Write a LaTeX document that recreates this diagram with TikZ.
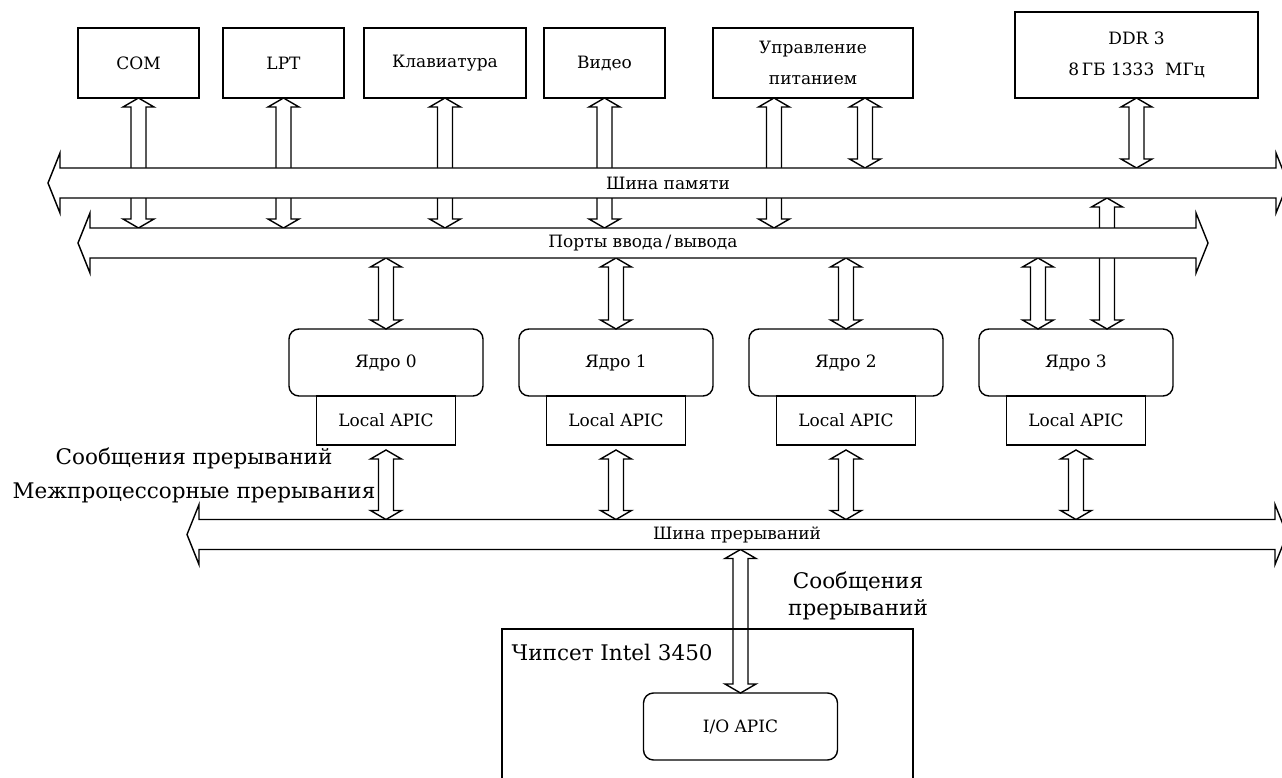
\documentclass[tikz,border=0pt]{standalone}
\usepackage{fontspec}
\setmainfont{DejaVu Serif}
\usetikzlibrary{positioning,calc}
\pgfdeclarelayer{back}
\pgfdeclarelayer{mid}
\pgfsetlayers{back,mid,main}

\begin{document}
\begin{tikzpicture}[
  x = 1pt, y = -1pt,
  box/.style = {
    draw,
    minimum height = 70pt,
    inner sep = 0pt,
    outer sep = 0pt,
    align = center,
    font = \fontsize{17}{31}\selectfont,
  },
  core/.style = {
    draw,
    rounded corners = 10pt,
    minimum width = 194pt,
    minimum height = 67pt,
    inner sep = 0pt,
    outer sep = 0pt,
    font = \fontsize{17}{20}\selectfont,
  },
  apic/.style = {
    draw,
    minimum width = 139pt,
    minimum height = 49pt,
    inner sep = 0pt,
    outer sep = 0pt,
    font = \fontsize{17}{20}\selectfont,
  },
  bus/.style = {
    minimum height = 30pt,
    inner sep = 0pt,
    outer sep = 0pt,
    font = \fontsize{17}{20}\selectfont,
  },
  bigtext/.style = {
    inner sep = 0pt,
    align = center,
    font = \fontsize{21.5}{34}\selectfont,
  },
  dblarrow/.style = {
    draw, fill = white,
    to path = {
      let \p1 = (\tikztostart), \p2 = (\tikztotarget) in
      (\x1, \y1) -- (\x1+15.5pt, \y1-9pt) -- (\x1+7.5pt, \y1-9pt)
      -- (\x2+7.5pt, \y2+9pt) -- (\x2+15.5pt, \y2+9pt) -- (\x2, \y2)
      -- (\x2-15.5pt, \y2+9pt) -- (\x2-7.5pt, \y2+9pt)
      -- (\x1-7.5pt, \y1-9pt) -- (\x1-15.5pt, \y1-9pt) -- cycle
    }
  },
  busline/.style = {
    draw, fill = white,
    to path = {
      let \p1 = (\tikztostart), \p2 = (\tikztotarget) in
      (\x1, \y1+15pt) -- (\x1, \y1+30pt) -- (\x1-12pt, \y1)
      -- (\x1, \y1-30pt) -- (\x1, \y1-15pt) -- (\x2, \y2-15pt)
      -- (\x2, \y2-30pt) -- (\x2+12pt, \y2) -- (\x2, \y2+30pt)
      -- (\x2, \y2+15pt) -- cycle
    }
  },
  every path/.style = {
    line width = 1.4pt
  }
]
  \useasboundingbox (0, 0) rectangle (1282, 778);

  % devices
  \node[box, minimum width = 121pt] (com) at (138.5, 63) {COM};
  \node[box, minimum width = 121pt] (lpt) at (283.5, 63) {LPT};
  \node[box, minimum width = 162pt] (kbd) at (445, 63) {Клавиатура};
  \node[box, minimum width = 121pt] (video) at (604.5, 63) {Видео};
  \node[box, minimum width = 200pt] (power) at (813, 63) {Управление\\питанием};
  \node[box, minimum width = 243pt, minimum height = 86pt] (ddr) at (1136.5, 55) {DDR 3\\8\,ГБ 1333\ \ МГц};

  % buses
  \node[bus, minimum width = 1216pt] (membus) at (668, 183) {Шина памяти};
  \node[bus, minimum width = 1106pt] (ports) at (643, 243) {Порты ввода\,/\,вывода};
  \node[bus, minimum width = 1076pt] (intbus) at (737, 534.5) {Шина прерываний};

  % cores
  \node[core] (core0) at (386, 362.5) {Ядро 0};
  \node[core, right = 36pt of core0] (core1) {Ядро 1};
  \node[core, right = 36pt of core1] (core2) {Ядро 2};
  \node[core, right = 36pt of core2] (core3) {Ядро 3};

  \foreach \i in {0,...,3}
    \node[apic, below = 0pt of core\i] (lapic\i) {Local APIC};

  % chipset
  \node[draw, minimum width = 411pt, minimum height = 171pt, inner sep = 0pt] (chipset) at (707.5, 714.5) {};
  \node[bigtext, anchor = west] (chiplabel) at (511, 652) {Чипсет Intel 3450};
  \node[core] (ioapic) at (740.5, 726.5) {I/O APIC};

  % labels
  \node[bigtext] (msglabel) at (194, 475) {Сообщения прерываний\\Межпроцессорные прерывания};
  \node[bigtext, font = \fontsize{21.5}{27}\selectfont] (iolabel) at (858, 596) {Сообщения\\прерываний};

  % arrows
  \begin{pgfonlayer}{back}
    \foreach \dev in {com, lpt, kbd, video}
      \draw[dblarrow] (\dev.south) to (\dev.south |- ports.north);
    \coordinate (pw1) at (774, 98);
    \coordinate (pw2) at (865, 98);
    \draw[dblarrow] (pw1) to (pw1 |- ports.north);
    \draw[dblarrow] (pw2) to (pw2 |- membus.north);
    \draw[dblarrow] (ddr.south) to (ddr.south |- membus.north);

    \foreach \i in {0,1,2}
      \draw[dblarrow] (core\i.north |- ports.south) to (core\i.north);
    \coordinate (c3l) at ([xshift = -38pt]core3.north);
    \coordinate (c3r) at ([xshift = 31pt]core3.north);
    \draw[dblarrow] (c3l |- ports.south) to (c3l);
    \draw[dblarrow] (c3r |- membus.south) to (c3r);

    \foreach \i in {0,...,3}
      \draw[dblarrow] ([yshift = -5pt]lapic\i.south) to (lapic\i.south |- intbus.north);
    \draw[dblarrow] (ioapic.north |- intbus.south) to (ioapic.north);
  \end{pgfonlayer}

  % bus outlines
  \begin{pgfonlayer}{mid}
    \foreach \b in {membus, ports, intbus}
      \draw[busline] (\b.west) to (\b.east);
  \end{pgfonlayer}
\end{tikzpicture}
\end{document}
